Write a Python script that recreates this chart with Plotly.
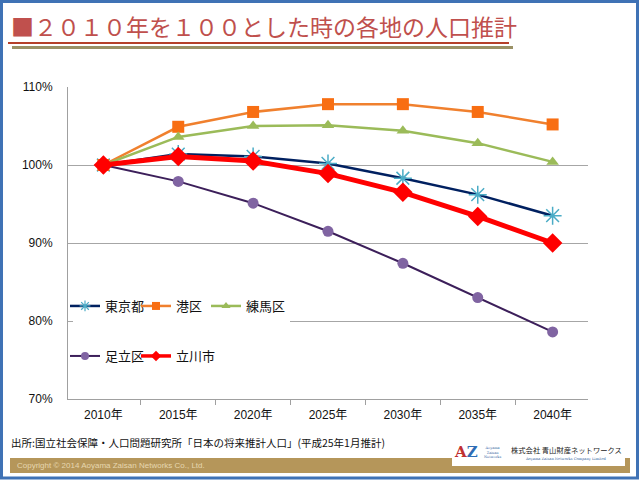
import plotly.graph_objects as go

years = ["2010年", "2015年", "2020年", "2025年", "2030年", "2035年", "2040年"]
tokyo = [100.0, 101.4, 101.1, 100.2, 98.3, 96.2, 93.5]
minato = [100.0, 104.9, 106.8, 107.8, 107.8, 106.8, 105.2]
nerima = [100.0, 103.6, 105.0, 105.1, 104.4, 102.8, 100.4]
adachi = [100.0, 97.9, 95.1, 91.5, 87.4, 83.0, 78.6]
tachikawa = [100.0, 101.1, 100.5, 98.9, 96.5, 93.4, 90.0]

title_text = "■２０１０年を１００とした時の各地の人口推計"
source_text = "出所:国立社会保障・人口問題研究所「日本の将来推計人口」(平成25年1月推計)"
copyright_text = "Copyright © 2014 Aoyama Zaisan Networks Co., Ltd."

W, H = 639, 480
L, R, T, B = 68, 51, 87, 81
PW, PH = W - L - R, H - T - B

def px(x):
    return (x - L) / PW

def py(y):
    return (H - B - y) / PH

CJK = "Noto Sans CJK JP, Liberation Sans, sans-serif"
LAT = "Liberation Sans, Noto Sans CJK JP, sans-serif"

fig = go.Figure()

series = [
    ("東京都", tokyo, "#002060", 2.5,
     dict(symbol="asterisk-open", size=15, color="#4BACC6", line=dict(color="#4BACC6", width=1.5)), "legend"),
    ("港区", minato, "#F0802E", 2.5,
     dict(symbol="square", size=12, color="#F86E12"), "legend2"),
    ("練馬区", nerima, "#9BBB59", 2.5,
     dict(symbol="triangle-up", size=11, color="#9BBB59"), "legend3"),
    ("足立区", adachi, "#3C1F5A", 2,
     dict(symbol="circle", size=11, color="#8064A2"), "legend4"),
    ("立川市", tachikawa, "#FF0000", 5,
     dict(symbol="diamond", size=15, color="#FF0000"), "legend5"),
]

for name, vals, lc, lw, marker, lg in series:
    fig.add_trace(go.Scatter(x=years, y=vals, name=name, mode="lines+markers",
                             line=dict(color=lc, width=lw), marker=marker, showlegend=False))

# legend-only entries with smaller symbols, like the reference legend
for name, vals, lc, lw, marker, lg in series:
    m = dict(marker)
    m["size"] = 8 if m["symbol"] != "asterisk-open" else 9
    if "line" in m:
        m["line"] = dict(color=m["line"]["color"], width=1.2)
    fig.add_trace(go.Scatter(x=[None], y=[None], name=name, mode="lines+markers",
                             line=dict(color=lc, width=min(lw, 3.5)), marker=m, legend=lg,
                             showlegend=True, hoverinfo="skip"))

leg_pos = {
    "legend": (65, 306), "legend2": (136, 306), "legend3": (206, 306),
    "legend4": (65, 356), "legend5": (136, 356),
}
legends = {}
for k, (x, y) in leg_pos.items():
    legends[k] = dict(x=px(x), y=py(y), xanchor="left", yanchor="middle",
                      bgcolor="rgba(0,0,0,0)", font=dict(family=CJK, size=13, color="#111111"),
                      itemwidth=30)

shapes = [
    # frame
    dict(type="rect", xref="paper", yref="paper", x0=px(1.5), x1=px(637.5), y0=py(1.5), y1=py(478),
         line=dict(color="#3F72B5", width=3), fillcolor="rgba(0,0,0,0)", layer="below"),
    # title underlines
    dict(type="line", xref="paper", yref="paper", x0=px(8), x1=px(509), y0=py(43), y1=py(43),
         line=dict(color="#B5402A", width=2)),
    dict(type="line", xref="paper", yref="paper", x0=px(12), x1=px(513), y0=py(47.5), y1=py(47.5),
         line=dict(color="#9A9166", width=3)),
    # legend white background covering gridline
    dict(type="rect", xref="paper", yref="paper", x0=px(73), x1=px(290), y0=py(290), y1=py(372),
         line=dict(width=0), fillcolor="white", layer="above"),
    # footer band
    dict(type="rect", xref="paper", yref="paper", x0=px(10), x1=px(630), y0=py(458), y1=py(473),
         line=dict(width=0), fillcolor="#B5965A", layer="above"),
    # logo box
    dict(type="rect", xref="paper", yref="paper", x0=px(452), x1=px(625), y0=py(440), y1=py(466),
         line=dict(width=0), fillcolor="white", layer="above"),
]

annotations = [
    dict(text=title_text, xref="paper", yref="paper", x=px(9), y=py(26), xanchor="left", yanchor="middle",
         showarrow=False, font=dict(family=CJK, size=23, color="#C0504D")),
    dict(text=source_text, xref="paper", yref="paper", x=px(9), y=py(442), xanchor="left", yanchor="middle",
         showarrow=False, font=dict(family=CJK, size=10.5, color="#111111")),
    dict(text=copyright_text, xref="paper", yref="paper", x=px(15), y=py(465), xanchor="left", yanchor="middle",
         showarrow=False, font=dict(family=LAT, size=8, color="#E6D6B0")),
    dict(text="<b>A</b><span style='color:#2F6DB5'><b>Z</b></span>", xref="paper", yref="paper", x=px(466), y=py(452),
         xanchor="center", yanchor="middle", showarrow=False,
         font=dict(family="DejaVu Serif, serif", size=15, color="#C03030")),
    dict(text="Aoyama<br>Zaisan<br>Networks", xref="paper", yref="paper", x=px(482), y=py(452),
         xanchor="left", yanchor="middle", showarrow=False,
         font=dict(family="DejaVu Serif, serif", size=3.5, color="#3060A0")),
    dict(text="株式会社 青山財産ネットワークス", xref="paper", yref="paper", x=px(566), y=py(450),
         xanchor="center", yanchor="middle", showarrow=False,
         font=dict(family="Noto Sans CJK JP, serif", size=7.3, color="#222222")),
    dict(text="Aoyama Zaisan Networks Company Limited", xref="paper", yref="paper", x=px(566), y=py(459),
         xanchor="center", yanchor="middle", showarrow=False,
         font=dict(family="DejaVu Serif, serif", size=3.6, color="#3060A0")),
]

layout = dict(
    width=W, height=H,
    margin=dict(l=L, r=R, t=T, b=B, pad=0),
    paper_bgcolor="white", plot_bgcolor="white",
    showlegend=True,
    xaxis=dict(type="category", categoryorder="array", categoryarray=years,
               showline=True, linecolor="#A0A0A0", linewidth=1,
               ticks="outside", tickson="boundaries", ticklen=5, tickcolor="#A0A0A0",
               ticklabelstandoff=5,
               showgrid=False, tickfont=dict(family=LAT, size=12, color="#111111"),
               fixedrange=True),
    yaxis=dict(range=[70, 110], dtick=10, tick0=70, ticksuffix="%",
               showline=True, linecolor="#A0A0A0", linewidth=1,
               showgrid=True, gridcolor="#A6A6A6", gridwidth=1, zeroline=False,
               ticks="", ticklabelstandoff=12,
               tickfont=dict(family=LAT, size=12, color="#111111"), fixedrange=True),
    shapes=shapes, annotations=annotations,
)
layout.update(legends)
fig.update_layout(**layout)

fig.write_html("out.html")
